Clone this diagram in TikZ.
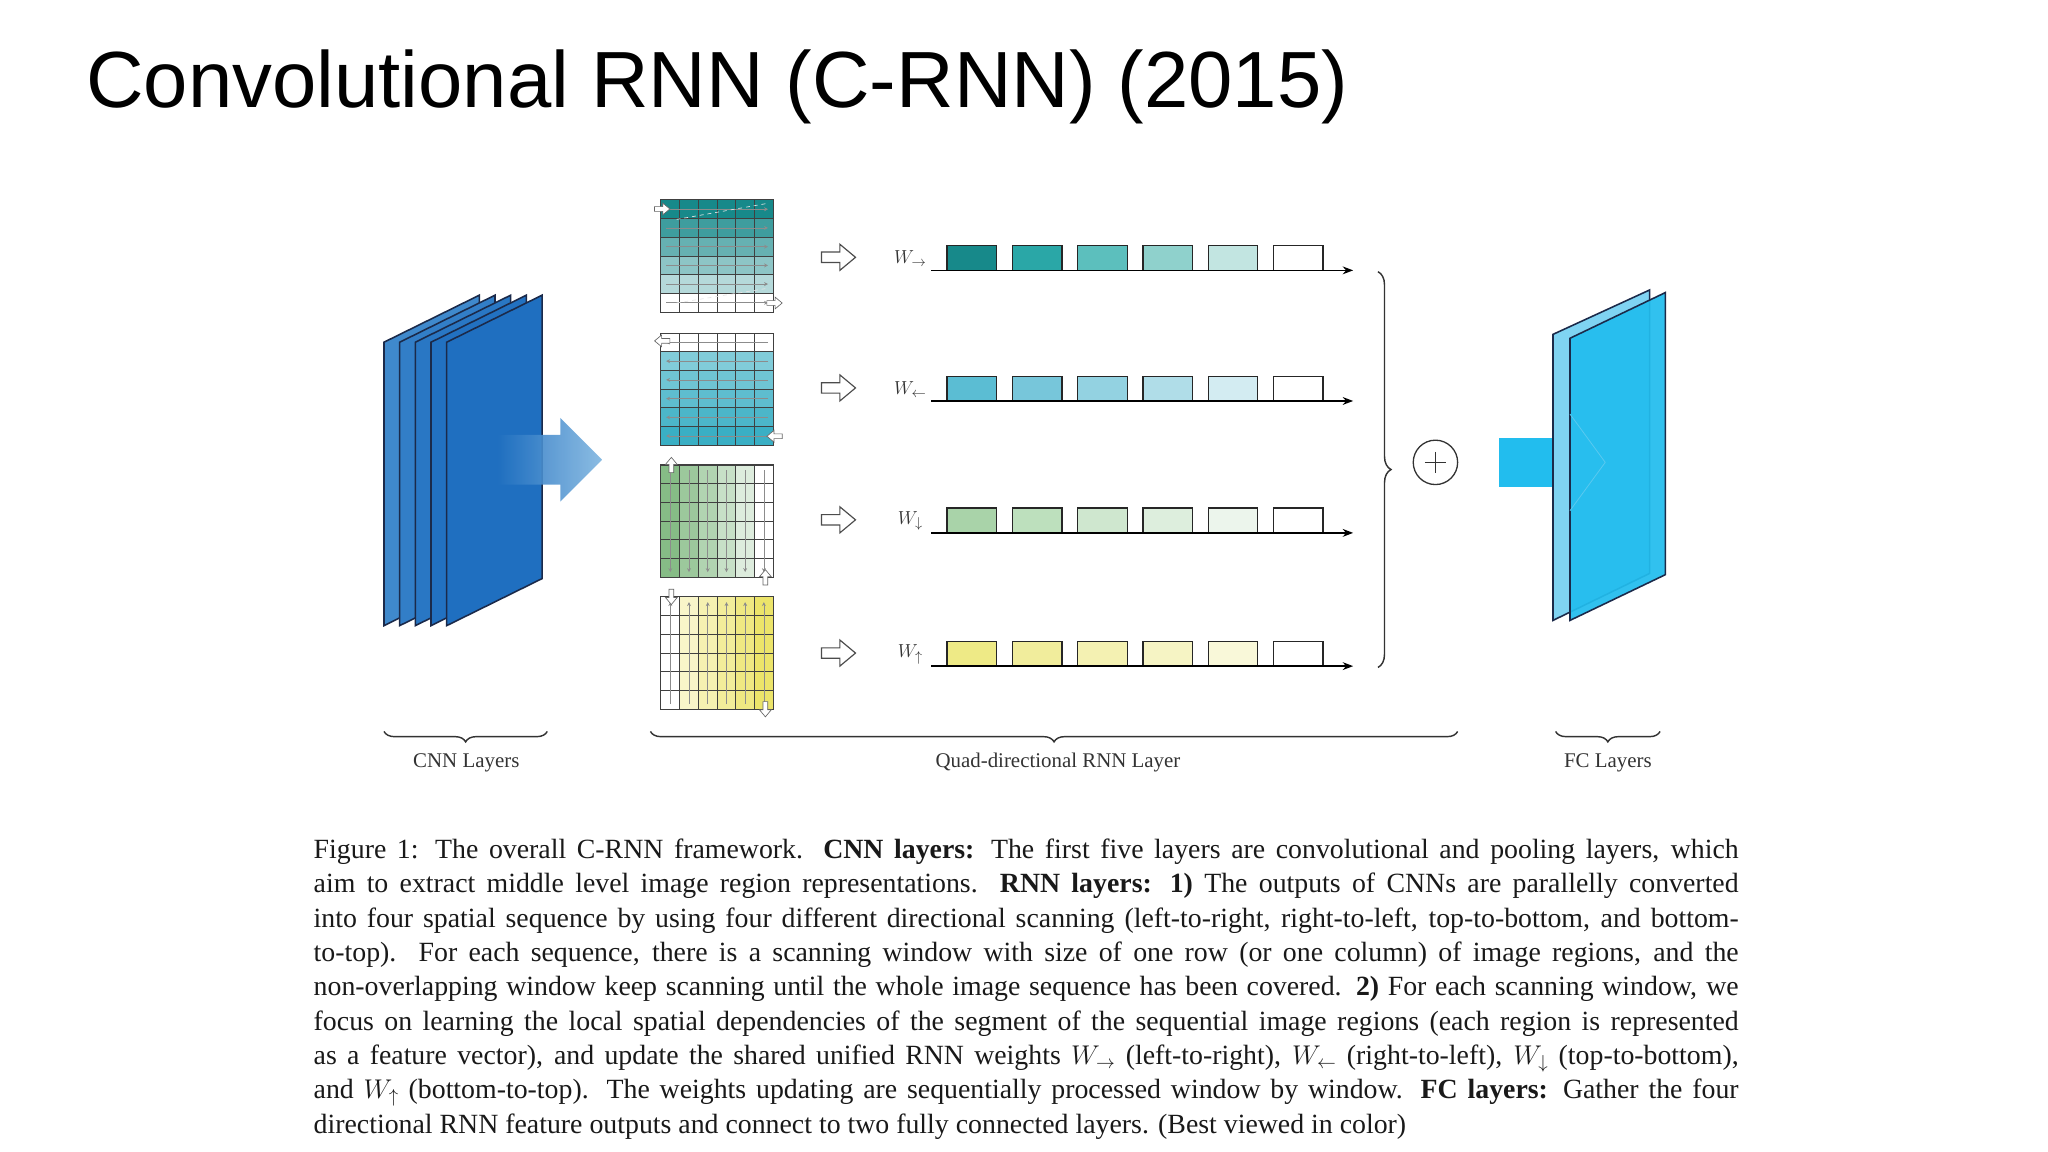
\documentclass[tikz,border=0pt]{standalone}
\usepackage{fontspec}
\setmainfont{Liberation Serif}
\newfontfamily\titlefont{Liberation Sans}
\usetikzlibrary{decorations.pathreplacing,arrows.meta}
\definecolor{tealA}{HTML}{17898A}
\definecolor{tealB}{HTML}{3AAFC4}
\definecolor{greenA}{HTML}{86BC86}
\definecolor{yellA}{HTML}{ECE46A}
\definecolor{cnnblue}{HTML}{1F6FC0}
\definecolor{cnnlight}{HTML}{5FA3D8}
\definecolor{fcblue}{HTML}{22BDEE}
\definecolor{fclight}{HTML}{7FD3F2}
\definecolor{edge}{HTML}{1B2A4A}
\tikzset{
  hollowline/.style={draw=black!70, fill=white, line width=0.9pt, line join=miter},
  tinyline/.style={draw=black!60, fill=white, line width=0.5pt},
  seqbox/.style={draw=black!85, line width=1pt},
  seqline/.style={line width=1.2pt, -{Stealth[length=8pt,width=6pt]}},
  brc/.style={decorate, decoration={brace, amplitude=9pt}, line width=1.1pt, black!80},
  lbl/.style={font=\fontsize{16}{18}\selectfont, text=black!80},
  sheet/.style={draw=edge, line width=1.2pt},
  gridarrow/.style={black!45, line width=0.6pt, -{Stealth[length=3pt,width=3pt]}}
}
% hollow right arrow centred at #1,#2 scale #3, rotation #4
\newcommand\hollowarrow[5]{%
  \draw[#5, shift={(#1,#2)}, rotate=#4, scale=#3]
    (-13,-4) -- (1,-4) -- (1,-10) -- (13,0) -- (1,10) -- (1,4) -- (-13,4) -- cycle;}
\begin{document}
\begin{tikzpicture}[x=1pt,y=-1pt]
\useasboundingbox[fill=white] (0,0) rectangle (1568,882);
% title
\node[anchor=base west, inner sep=0pt, font=\titlefont\fontsize{61}{66}\selectfont] (title) at (66,82) {Convolutional RNN (C-RNN) (2015)};

% CNN sheets
\foreach \i/\c in {0/50,1/70,2/85,3/95,4/100}{
  \pgfmathsetmacro\xl{294+12*\i}
  \fill[cnnblue!\c!cnnlight] (\xl,479) -- (\xl,262) -- (\xl+73,226) -- (\xl+73,443) -- cycle;
  \draw[sheet] (\xl,479) -- (\xl,262) -- (\xl+73,226) -- (\xl+73,443) -- cycle;
}
% CNN arrow
\shade[left color=cnnblue, right color=cnnlight!80, opacity=0.9]
  (380,333) -- (429,333) -- (429,320) -- (461,352) -- (429,384) -- (429,371) -- (380,371) -- cycle;

% grids
\foreach \g/\t in {1/153,2/255,3/356,4/457}{
  \foreach \r in {0,...,5}{
    \foreach \c in {0,...,5}{
      \pgfmathsetmacro\xa{506+\c*14.33}
      \pgfmathsetmacro\ya{\t+\r*14.33}
      \ifcase\g\or
        \pgfmathtruncatemacro\p{\r==5 ? 0 : 100-\r*17}
        \fill[tealA!\p!white] (\xa,\ya) rectangle ++(14.4,14.4);
      \or
        \pgfmathtruncatemacro\p{\r==0 ? 0 : 55+\r*9}
        \fill[tealB!\p!white] (\xa,\ya) rectangle ++(14.4,14.4);
      \or
        \pgfmathtruncatemacro\p{\c==5 ? 0 : 100-\c*18}
        \fill[greenA!\p!white] (\xa,\ya) rectangle ++(14.4,14.4);
      \or
        \pgfmathtruncatemacro\p{\c==0 ? 0 : 20+\c*16}
        \fill[yellA!\p!white] (\xa,\ya) rectangle ++(14.4,14.4);
      \fi
    }
  }
  \foreach \k in {1,...,5}{
    \draw[black!75, line width=0.7pt] (506+\k*14.33,\t) -- (506+\k*14.33,\t+86);
    \draw[black!75, line width=0.7pt] (506,\t+\k*14.33) -- (592,\t+\k*14.33);
  }
  \draw[black!75, line width=0.8pt] (506,\t) rectangle (592,\t+86);
}
% scanning arrows inside grids
\foreach \r in {0,...,5}{
  \draw[gridarrow] (510,153+7.2+\r*14.33) -- (588,153+7.2+\r*14.33);
  \draw[gridarrow] (588,255+7.2+\r*14.33) -- (510,255+7.2+\r*14.33);
}
\foreach \c in {0,...,5}{
  \draw[gridarrow] (506+7.2+\c*14.33,360) -- (506+7.2+\c*14.33,438);
  \draw[gridarrow] (506+7.2+\c*14.33,539) -- (506+7.2+\c*14.33,461);
}
\draw[white!80!gray, dashed, line width=0.5pt] (518,168) -- (586,156);
\draw[white!80!gray, dashed, line width=0.5pt] (518,232) -- (586,221);
% tiny entry/exit arrows
\hollowarrow{507}{160}{0.45}{0}{tinyline}
\hollowarrow{593}{232}{0.45}{0}{tinyline}
\hollowarrow{507}{261}{0.45}{180}{tinyline}
\hollowarrow{593}{334}{0.45}{180}{tinyline}
\hollowarrow{514}{356}{0.45}{90}{tinyline}
\hollowarrow{586}{442}{0.45}{90}{tinyline}
\hollowarrow{514}{457}{0.45}{-90}{tinyline}
\hollowarrow{586}{543}{0.45}{-90}{tinyline}

% rows of sequence boxes
\foreach \y/\lab/\cA/\cB/\cC/\cD/\cE/\n in {
  207/{$W_{\rightarrow}$}/17898A/2AA7A7/5CBFBD/8FD1CC/C2E5E1/1,
  307/{$W_{\leftarrow}$}/5BBDD3/77C6DA/93D2E1/B0DDE8/D3ECF2/2,
  408/{$W_{\downarrow}$}/A9D3A9/BDE0BD/CFE7CF/DDEEDD/ECF5EC/3,
  510/{$W_{\uparrow}$}/EEEA86/F1ED9C/F4F1B2/F6F4C4/F9F8D9/4}{
  \hollowarrow{642}{\y-10}{1}{0}{hollowline}
  \node[lbl, font=\fontsize{15}{17}\selectfont] (w\n) at (697,\y-9) {\lab};
  \coordinate (s\n) at (713,\y);
  \coordinate (e\n) at (1036,\y);
  \foreach \k/\cc in {0/\cA,1/\cB,2/\cC,3/\cD,4/\cE}{
    \definecolor{tmpc}{HTML}{\cc}
    \draw[seqbox, fill=tmpc] (725+\k*50,\y) rectangle ++(38,-19);
  }
  \draw[seqbox, fill=white] (975,\y) rectangle ++(38,-19);
  \draw[seqline] (s\n) -- (e\n);
}

% right brace and plus
\draw[brc, decoration={amplitude=10pt}] (1055,208) -- (1055,511);
\node[draw=black!80, circle, line width=1pt, minimum size=34pt, inner sep=0pt] (plus) at (1099,354) {};
\draw[black!80, line width=1pt] (1091,354) -- (1107,354) (1099,346) -- (1099,362);

% FC arrow and sheets
\fill[fcblue] (1148,335) rectangle (1200,373);
\fill[fclight!70!fcblue] (1189,317) -- (1229,354) -- (1189,391) -- cycle;
\fill[fclight] (1189,475) -- (1189,256) -- (1263,222) -- (1263,439) -- cycle;
\draw[sheet] (1189,475) -- (1189,256) -- (1263,222) -- (1263,439) -- cycle;
\fill[fcblue, opacity=0.93] (1202,475) -- (1202,259) -- (1275,224) -- (1275,440) -- cycle;
\draw[sheet] (1202,475) -- (1202,259) -- (1275,224) -- (1275,440) -- cycle;
\draw[fclight!60!fcblue, line width=0.6pt] (1202,317) -- (1229,354) -- (1202,391);

% bottom braces
\draw[brc, decoration={mirror, amplitude=8pt}] (294,560) -- (419,560);
\draw[brc, decoration={mirror, amplitude=8pt}] (498,560) -- (1116,560);
\draw[brc, decoration={mirror, amplitude=8pt}] (1191,560) -- (1271,560);
\node[lbl] (cnnl) at (357,584) {CNN Layers};
\node[lbl] (quadl) at (810,584) {Quad-directional RNN Layer};
\node[lbl] (fcl) at (1231,584) {FC Layers};

% caption
\node[anchor=north west, inner sep=0pt, text width=1091pt, align=justify,
      font=\fontsize{21.3}{26.3}\selectfont, text=black!90] (cap) at (240,642) {%
Figure 1: The overall C-RNN framework. \textbf{CNN layers:} The first five layers are convolutional and pooling layers, which\linebreak
aim to extract middle level image region representations. \textbf{RNN layers: 1)} The outputs of CNNs are parallelly converted\linebreak
into four spatial sequence by using four different directional scanning (left-to-right, right-to-left, top-to-bottom, and bottom-\linebreak
to-top). For each sequence, there is a scanning window with size of one row (or one column) of image regions, and the\linebreak
non-overlapping window keep scanning until the whole image sequence has been covered. \textbf{2)} For each scanning window, we\linebreak
focus on learning the local spatial dependencies of the segment of the sequential image regions (each region is represented\linebreak
as a feature vector), and update the shared unified RNN weights $W_{\rightarrow}$ (left-to-right), $W_{\leftarrow}$ (right-to-left), $W_{\downarrow}$ (top-to-bottom),\linebreak
and $W_{\uparrow}$ (bottom-to-top). The weights updating are sequentially processed window by window. \textbf{FC layers:} Gather the four\linebreak
directional RNN feature outputs and connect to two fully connected layers. (Best viewed in color)};
\end{tikzpicture}
\end{document}
